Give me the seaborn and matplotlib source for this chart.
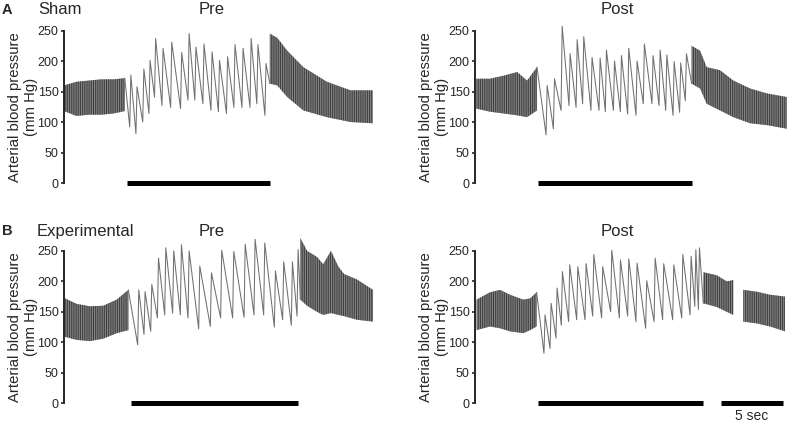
import numpy as np
import pandas as pd
import seaborn as sns
import matplotlib.pyplot as plt

# time in seconds from the start of each trace, pressure in mm Hg
# fast-rhythm stretches are given as upper/lower envelopes,
# slow beats during stimulation as (onset, trough, peak)

# --- A, Sham, Pre ---
a_pre_base_t = [0.0, 1.0, 2.0, 3.0, 4.0, 4.9]
a_pre_base_hi = [160, 166, 168, 170, 170, 172]
a_pre_base_lo = [118, 110, 112, 112, 114, 118]
a_pre_beat_t = [5.3, 5.8, 6.35, 6.85, 7.3, 7.9, 8.6, 9.4, 10.0, 10.55, 11.2, 11.85,
                12.45, 13.1, 13.7, 14.35, 15.0, 15.55, 16.2]
a_pre_beat_lo = [92, 81, 100, 114, 141, 127, 124, 122, 136, 136, 130, 119, 117, 114,
                 124, 124, 124, 130, 111]
a_pre_beat_hi = [177, 158, 187, 201, 237, 221, 231, 214, 245, 223, 228, 215, 201, 207,
                 227, 221, 237, 227, 196]
a_pre_rec_t = [16.6, 17.2, 18.0, 19.3, 21.2, 23.1, 24.9]
a_pre_rec_hi = [245, 238, 217, 190, 166, 152, 152]
a_pre_rec_lo = [163, 160, 141, 119, 108, 100, 98]
a_pre_stim = [5.1, 16.6]

# --- A, Sham, Post ---
a_post_base_t = [0.1, 1.2, 2.3, 3.4, 4.2, 5.0]
a_post_base_hi = [171, 171, 176, 182, 168, 190]
a_post_base_lo = [122, 117, 114, 111, 108, 119]
a_post_beat_t = [5.73, 6.32, 6.94, 7.58, 8.15, 8.68, 9.35, 10.0, 10.51, 11.16, 11.72,
                 12.31, 12.98, 13.57, 14.27, 14.84, 15.38, 15.97, 16.5, 16.96]
a_post_beat_lo = [79, 89, 119, 127, 124, 130, 119, 119, 117, 119, 117, 113, 111, 130,
                  130, 127, 119, 111, 116, 135]
a_post_beat_hi = [160, 171, 257, 212, 235, 240, 206, 205, 218, 200, 209, 221, 200, 228,
                  209, 218, 210, 199, 197, 212]
a_post_rec_t = [17.47, 18.15, 18.68, 19.76, 20.83, 22.18, 23.52, 25.14]
a_post_rec_hi = [225, 217, 190, 185, 168, 155, 147, 141]
a_post_rec_lo = [163, 155, 130, 119, 108, 98, 95, 89]
a_post_stim = [5.08, 17.5]

# --- B, Experimental, Pre ---
b_pre_base_t = [0.08, 1.02, 2.1, 3.17, 4.25, 5.19]
b_pre_base_hi = [172, 163, 159, 160, 170, 186]
b_pre_base_lo = [109, 104, 102, 106, 115, 120]
b_pre_beat_t = [5.94, 6.45, 6.99, 7.53, 8.12, 8.76, 9.38, 10.0, 10.86, 11.8, 12.63,
                13.6, 14.52, 15.32, 16.1, 16.96, 17.63, 18.33, 18.79]
b_pre_beat_lo = [96, 113, 118, 140, 145, 148, 145, 140, 122, 126, 140, 140, 141, 145,
                 145, 125, 137, 128, 143]
b_pre_beat_hi = [186, 183, 195, 238, 255, 250, 260, 250, 225, 214, 251, 249, 261, 269,
                 263, 217, 232, 232, 252]
b_pre_rec_t = [19.06, 19.6, 20.4, 20.9, 21.53, 22.1, 22.58, 23.63, 24.92]
b_pre_rec_hi = [271, 250, 240, 228, 250, 225, 212, 203, 186]
b_pre_rec_lo = [170, 160, 150, 145, 148, 145, 143, 137, 134]
b_pre_stim = [5.4, 18.87]

# --- B, Experimental, Post ---
b_post_base_t = [0.13, 1.21, 2.02, 2.82, 3.9, 4.44, 4.97]
b_post_base_hi = [170, 182, 186, 178, 170, 172, 182]
b_post_base_lo = [120, 126, 123, 118, 115, 120, 126]
b_post_beat_t = [5.56, 6.05, 6.53, 6.96, 7.55, 8.2, 8.87, 9.49, 10.21, 10.94, 11.64,
                 12.31, 12.98, 13.76, 14.44, 15.13, 15.94, 16.67, 17.34, 17.72, 18.01]
b_post_beat_lo = [82, 90, 107, 128, 134, 137, 137, 143, 140, 150, 140, 143, 134, 123,
                  134, 137, 137, 140, 145, 159, 154]
b_post_beat_hi = [145, 164, 189, 216, 227, 224, 229, 244, 224, 251, 235, 237, 230, 201,
                  238, 229, 227, 244, 241, 252, 255]
b_post_rec_t = [18.41, 19.49, 20.3, 20.83]
b_post_rec_hi = [215, 210, 200, 202]
b_post_rec_lo = [164, 158, 150, 145]
b_post_rec2_t = [21.64, 22.72, 23.79, 25.0]
b_post_rec2_hi = [186, 183, 178, 175]
b_post_rec2_lo = [134, 131, 126, 118]
b_post_stim = [5.08, 18.39]

scale_bar = [19.84, 24.84]
scale_label = "5 sec"
y_ticks = [0, 50, 100, 150, 200, 250]
y_label = "Arterial blood pressure\n(mm Hg)"

RISE = 0.09  # upstroke duration (s)

sns.set_style("ticks")
plt.rcParams['font.family'] = ['Liberation Sans', 'DejaVu Sans']
plt.rcParams['hatch.linewidth'] = 0.7


def draw_band(ax, t, hi, lo):
    ax.fill_between(t, lo, hi, facecolor='#8c8c8c', edgecolor='#3c3c3c',
                    hatch='|||||||||', linewidth=0)


def beats_frame(t, lo, hi, start, end):
    rows = [start]
    for ti, l, h in zip(t, lo, hi):
        rows.append((ti, l))
        rows.append((ti + RISE, h))
    rows.append(end)
    return pd.DataFrame(rows, columns=['t', 'bp'])


def draw_panel(ax, base, beats, recs, stim):
    draw_band(ax, *base)
    for r in recs:
        draw_band(ax, *r)
    df = beats_frame(*beats, start=(base[0][-1], base[1][-1]),
                     end=(recs[0][0][0], recs[0][2][0]))
    sns.lineplot(data=df, x='t', y='bp', sort=False, estimator=None,
                 color='#707070', linewidth=0.75, ax=ax)
    ax.plot(stim, [0, 0], color='black', lw=3.6, solid_capstyle='butt',
            clip_on=False)
    ax.set_xlim(0, 25.2)
    ax.set_ylim(-10, 280)
    for s in ['top', 'right', 'bottom']:
        ax.spines[s].set_visible(False)
    ax.spines['left'].set_bounds(0, 250)
    ax.spines['left'].set_linewidth(1.4)
    ax.set_xticks([])
    ax.set_yticks(y_ticks)
    ax.tick_params(axis='y', length=2.5, width=1.2, labelsize=9, pad=1.5)
    ax.set_xlabel('')
    ax.set_ylabel(y_label, fontsize=10.7, linespacing=1.15)
    ax.yaxis.set_label_coords(-0.083, 135 / 290)


fig = plt.figure(figsize=(7.88, 4.22), dpi=100)
W, H = 788, 422
ax_w = 312.5 / W
ax_h = 0.4190
ax_al = fig.add_axes([64 / W, 0.5519, ax_w, ax_h])
ax_ar = fig.add_axes([475 / W, 0.5519, ax_w, ax_h])
ax_bl = fig.add_axes([64 / W, 0.0299, ax_w, ax_h])
ax_br = fig.add_axes([475 / W, 0.0299, ax_w, ax_h])

draw_panel(ax_al, (a_pre_base_t, a_pre_base_hi, a_pre_base_lo),
           (a_pre_beat_t, a_pre_beat_lo, a_pre_beat_hi),
           [(a_pre_rec_t, a_pre_rec_hi, a_pre_rec_lo)], a_pre_stim)
draw_panel(ax_ar, (a_post_base_t, a_post_base_hi, a_post_base_lo),
           (a_post_beat_t, a_post_beat_lo, a_post_beat_hi),
           [(a_post_rec_t, a_post_rec_hi, a_post_rec_lo)], a_post_stim)
draw_panel(ax_bl, (b_pre_base_t, b_pre_base_hi, b_pre_base_lo),
           (b_pre_beat_t, b_pre_beat_lo, b_pre_beat_hi),
           [(b_pre_rec_t, b_pre_rec_hi, b_pre_rec_lo)], b_pre_stim)
draw_panel(ax_br, (b_post_base_t, b_post_base_hi, b_post_base_lo),
           (b_post_beat_t, b_post_beat_lo, b_post_beat_hi),
           [(b_post_rec_t, b_post_rec_hi, b_post_rec_lo),
            (b_post_rec2_t, b_post_rec2_hi, b_post_rec2_lo)], b_post_stim)

# 5 sec scale bar
ax_br.plot(scale_bar, [0, 0], color='black', lw=3.6, solid_capstyle='butt',
           clip_on=False)
ax_br.text(np.mean(scale_bar), -9, scale_label, ha='center', va='top',
           fontsize=10, clip_on=False)


# panel labels and titles
def ftext(px, py, s, **kw):
    fig.text(px / W, 1 - py / H, s, va='center', **kw)


ftext(2, 10, 'A', fontsize=10.5, fontweight='bold', ha='left')
ftext(38, 10, 'Sham', fontsize=12, ha='left')
ftext(212, 10, 'Pre', fontsize=12, ha='center')
ftext(617, 10, 'Post', fontsize=12, ha='center')
ftext(2, 231, 'B', fontsize=10.5, fontweight='bold', ha='left')
ftext(37, 231, 'Experimental', fontsize=12, ha='left')
ftext(212, 231, 'Pre', fontsize=12, ha='center')
ftext(617, 232, 'Post', fontsize=12, ha='center')

fig.savefig('out.png', dpi=100)
